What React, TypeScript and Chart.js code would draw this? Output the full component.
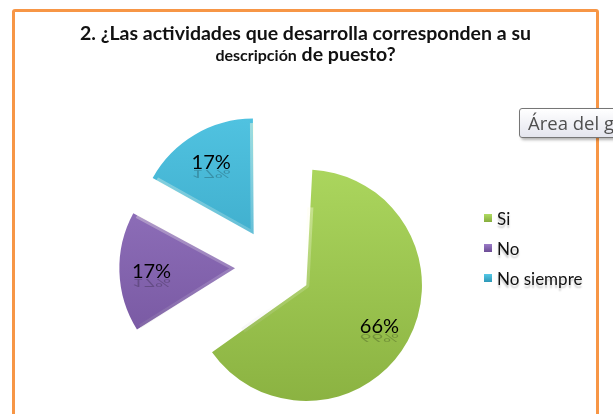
import { useEffect, useRef } from "react";
import { Chart, registerables } from "chart.js";

Chart.register(...registerables);

const categories = ["Si", "No", "No siempre"];
const values = [66, 17, 17];
const percentLabels = ["66%", "17%", "17%"];
const colorsTop = ["#B0DB62", "#9B7CC7", "#55C8E6"];
const colorsBottom = ["#86AD3D", "#6C4C95", "#2D98B7"];
const legendColors = ["#9CC84F", "#8262AC", "#3DB3D4"];

const EXPLODE = 38;
const RADIUS = 116;
const FONT = "Lato, 'Open Sans', sans-serif";

function circOf(data: number[], i: number): number {
  const sum = data.reduce((a, b) => a + b, 0);
  return (data[i] / sum) * Math.PI * 2;
}

function colorFor(ctx: any): any {
  const chart = ctx.chart;
  const area = chart.chartArea;
  const i = ctx.dataIndex;
  if (!area) return legendColors[i];
  const cy = (area.top + area.bottom) / 2;
  const g = chart.ctx.createLinearGradient(0, cy - RADIUS - EXPLODE, 0, cy + RADIUS + EXPLODE);
  g.addColorStop(0, colorsTop[i]);
  g.addColorStop(1, colorsBottom[i]);
  return g;
}

function bevelFor(ctx: any): any {
  const chart = ctx.chart;
  const area = chart.chartArea;
  if (!area) return "rgba(255,255,255,0.2)";
  const cy = (area.top + area.bottom) / 2;
  const g = chart.ctx.createLinearGradient(0, cy - RADIUS - EXPLODE, 0, cy + RADIUS + EXPLODE);
  g.addColorStop(0, "rgba(255,255,210,0.55)");
  g.addColorStop(0.55, "rgba(255,255,255,0.15)");
  g.addColorStop(1, "rgba(0,0,0,0.14)");
  return g;
}

// Chart.js grows the radius of an offset arc by (offset/4)*(1-sin(min(PI,circ)));
// compensate so every exploded slice keeps the same radius.
const radiusFixPlugin = {
  id: "radiusFix",
  beforeDatasetsDraw(chart: any) {
    const meta = chart.getDatasetMeta(0);
    const data: number[] = chart.data.datasets[0].data;
    meta.data.forEach((arc: any, i: number) => {
      const circ = circOf(data, i);
      const fix = 1 - Math.sin(Math.min(Math.PI, circ));
      arc.outerRadius = RADIUS - EXPLODE * fix;
    });
  },
};

const labelPlugin = {
  id: "pctLabels",
  afterDatasetsDraw(chart: any) {
    const meta = chart.getDatasetMeta(0);
    const ctx = chart.ctx as CanvasRenderingContext2D;
    meta.data.forEach((arc: any, i: number) => {
      const { x, y, startAngle, endAngle } = arc.getProps(
        ["x", "y", "startAngle", "endAngle"],
        true
      );
      const mid = (startAngle + endAngle) / 2;
      const d = EXPLODE + RADIUS * 0.72;
      const lx = x + Math.cos(mid) * d;
      const ly = y + Math.sin(mid) * d;
      const base = ly + 7;
      ctx.save();
      ctx.font = `20px ${FONT}`;
      ctx.textAlign = "center";
      ctx.textBaseline = "alphabetic";
      ctx.fillStyle = "#000000";
      ctx.fillText(percentLabels[i], lx, base);
      ctx.translate(lx, base + 1);
      ctx.scale(1, -0.55);
      ctx.globalAlpha = 0.22;
      ctx.fillText(percentLabels[i], 0, 0);
      ctx.restore();
    });
  },
};

export default function App() {
  const ref = useRef<HTMLCanvasElement | null>(null);

  useEffect(() => {
    if (!ref.current) return;
    const chart = new Chart(ref.current, {
      type: "pie",
      data: {
        labels: categories,
        datasets: [
          {
            data: values,
            backgroundColor: colorFor as any,
            borderColor: bevelFor as any,
            borderWidth: 3,
            borderAlign: "inner",
            offset: EXPLODE * 4,
            radius: RADIUS,
            clip: false as any,
          } as any,
        ],
      },
      options: {
        responsive: false,
        animation: false,
        events: [],
        layout: { padding: { left: 0, right: 67, top: 120, bottom: 0 } },
        plugins: {
          legend: { display: false },
          title: { display: false },
          tooltip: { enabled: false },
        },
      } as any,
      plugins: [radiusFixPlugin, labelPlugin],
    });
    return () => chart.destroy();
  }, []);

  return (
    <div
      style={{
        position: "fixed",
        left: 0,
        top: 0,
        width: 613,
        height: 414,
        overflow: "hidden",
        background: "#ffffff",
        fontFamily: FONT,
      }}
    >
      <div
        style={{
          position: "absolute",
          left: 12,
          top: 9,
          width: 587,
          height: 430,
          boxSizing: "border-box",
          border: "3px solid #F79646",
          borderRadius: 3,
        }}
      />
      <canvas
        ref={ref}
        width={613}
        height={414}
        style={{ position: "absolute", left: 0, top: 0, width: 613, height: 414 }}
      />
      <div
        style={{
          position: "absolute",
          left: 12,
          width: 587,
          top: 22,
          textAlign: "center",
          fontWeight: 700,
          color: "#111111",
          lineHeight: "21px",
          whiteSpace: "nowrap",
        }}
      >
        <div style={{ fontSize: 19.5 }}>2. ¿Las actividades que desarrolla corresponden a su</div>
        <div style={{ fontSize: 19.5 }}>
          <span style={{ fontSize: 16 }}>descripción</span> de puesto?
        </div>
      </div>
      {categories.map((c, i) => (
        <div
          key={c}
          style={{
            position: "absolute",
            left: 484,
            top: 218 - 11 + i * 30,
            height: 22,
            display: "flex",
            alignItems: "center",
            whiteSpace: "nowrap",
          }}
        >
          <span
            style={{
              display: "inline-block",
              width: 8,
              height: 8,
              background: `linear-gradient(${colorsTop[i]}, ${colorsBottom[i]})`,
              marginRight: 5,
            }}
          />
          <span
            style={{
              fontSize: 17,
              color: "#111",
              textShadow: "0 3px 2px rgba(0,0,0,0.22)",
            }}
          >
            {c}
          </span>
        </div>
      ))}
      <div
        style={{
          position: "absolute",
          left: 519,
          top: 108,
          width: 150,
          height: 30,
          boxSizing: "border-box",
          border: "1px solid #767676",
          borderRadius: 3,
          background: "linear-gradient(#ffffff, #e4e5ee)",
          boxShadow: "2px 2px 3px rgba(0,0,0,0.3)",
          color: "#4f4f4f",
          fontFamily: "'Open Sans', 'Noto Sans', sans-serif",
          fontSize: 18.5,
          lineHeight: "28px",
          paddingLeft: 8,
          whiteSpace: "nowrap",
        }}
      >
        Área del gráfico
      </div>
    </div>
  );
}
